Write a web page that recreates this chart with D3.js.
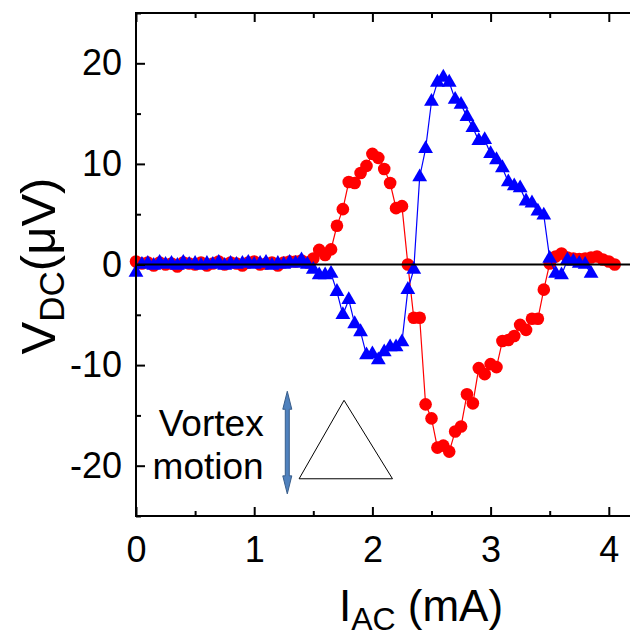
<!DOCTYPE html>
<html>
<head>
<meta charset="utf-8">
<script src="https://cdn.jsdelivr.net/npm/d3@7/dist/d3.min.js"></script>
<style>
  html, body { margin: 0; padding: 0; background: #fff; }
  svg { display: block; }
  text { font-family: "Liberation Sans", Arial, sans-serif; fill: #000; }
</style>
</head>
<body>
<script>
// DC voltage vs. AC drive current, two field polarities
const currentRed = [0.00,0.05,0.10,0.15,0.20,0.25,0.30,0.35,0.40,0.45,0.50,0.55,0.60,0.65,0.70,0.75,0.80,0.85,0.90,0.95,
  1.00,1.05,1.10,1.15,1.20,1.25,1.30,1.35,1.40,1.45,1.50,1.55,1.60,1.65,1.70,1.75,1.80,1.85,1.90,1.95,
  2.00,2.05,2.10,2.15,2.20,2.25,2.30,2.35,2.40,2.45,2.50,2.55,2.60,2.65,2.70,2.75,2.80,2.85,2.90,2.95,
  3.00,3.05,3.10,3.15,3.20,3.25,3.30,3.35,3.40,3.45,3.50,3.55,3.60,3.65,3.70,3.75,3.80,3.85,3.90,3.95,
  4.00,4.05];
const voltageRed = [0.3,0.1,0.2,-0.1,0.2,0.0,0.1,-0.2,0.2,0.1,0.0,0.2,-0.1,0.1,0.3,0.0,0.2,0.1,-0.1,0.2,
  0.3,0.0,0.1,0.2,-0.1,0.2,0.3,0.3,0.4,0.2,0.6,1.45,0.95,1.5,3.85,5.5,8.2,8.1,9.1,9.8,
  11.0,10.6,9.5,8.1,5.6,5.8,0.0,-5.3,-5.3,-13.9,-15.3,-18.2,-18.0,-18.6,-16.6,-16.1,-12.9,-13.8,-10.3,-10.9,
  -9.9,-10.2,-7.6,-7.5,-7.1,-6.0,-6.5,-5.4,-5.4,-2.5,0.1,0.8,1.1,0.7,0.6,0.55,0.6,0.7,0.8,0.5,
  0.3,0.0];

const currentBlue = [0.00,0.05,0.10,0.15,0.20,0.25,0.30,0.35,0.40,0.45,0.50,0.55,0.60,0.65,0.70,0.75,0.80,0.85,0.90,0.95,
  1.00,1.05,1.10,1.15,1.20,1.25,1.30,1.35,1.40,1.45,1.50,1.55,1.60,1.65,1.70,1.75,1.80,1.85,1.90,1.95,
  2.00,2.05,2.10,2.15,2.20,2.25,2.30,2.35,2.40,2.45,2.50,2.55,2.60,2.65,2.70,2.75,2.80,2.85,2.90,2.95,
  3.00,3.05,3.10,3.15,3.20,3.25,3.30,3.35,3.40,3.45,3.50,3.55,3.60,3.65,3.70,3.75,3.80,3.85];
const voltageBlue = [-0.8,0.0,0.1,-0.1,0.2,0.0,0.1,-0.1,0.2,0.0,0.1,-0.1,0.1,0.0,0.2,-0.1,0.1,0.0,0.1,0.2,
  0.0,0.1,0.2,-0.1,0.1,0.0,0.2,0.1,0.45,0.0,-0.5,-1.05,-1.05,-0.9,-2.7,-5.0,-3.5,-5.9,-6.7,-9.0,
  -8.9,-9.5,-8.7,-8.2,-8.2,-7.7,-2.5,-0.5,8.7,11.5,16.2,18.1,18.6,18.1,16.4,15.9,14.7,13.6,12.3,12.4,
  11.0,10.4,9.6,8.2,7.8,7.6,6.3,6.1,5.3,4.9,0.6,-0.9,-1.05,0.45,0.3,0.1,0.0,-0.9];

const xMajorTicks = [0, 1, 2, 3, 4];
const xMinorTicks = [0.5, 1.5, 2.5, 3.5];
const yMajorTicks = [-20, -10, 0, 10, 20];
const yMinorTicks = [-25, -15, -5, 5, 15, 25];
const insetLines = ["Vortex", "motion"];

const W = 630, H = 640;
const svg = d3.select("body").append("svg").attr("width", W).attr("height", H);
svg.append("rect").attr("width", W).attr("height", H).attr("fill", "#fff");

const plotLeft = 136, plotTop = 13, plotBottom = 516;
const x = d3.scaleLinear().domain([0, 4.2]).range([plotLeft, plotLeft + 4.2 * 118.2]);
const y = d3.scaleLinear().domain([-25, 25]).range([plotBottom, plotTop]);

const red = currentRed.map((c, i) => ({ c, v: voltageRed[i] }));
const blue = currentBlue.map((c, i) => ({ c, v: voltageBlue[i] }));

const line = d3.line().x(d => x(d.c)).y(d => y(d.v));

// red series
svg.append("path").datum(red).attr("d", line)
  .attr("fill", "none").attr("stroke", "#ff0000").attr("stroke-width", 1.2);
svg.append("g").selectAll("circle").data(red).join("circle")
  .attr("cx", d => x(d.c)).attr("cy", d => y(d.v)).attr("r", 6.3)
  .attr("fill", "#ff0000");

// blue series
svg.append("path").datum(blue).attr("d", line)
  .attr("fill", "none").attr("stroke", "#0000ff").attr("stroke-width", 1.2);
const tri = d3.symbol().type(d3.symbolTriangle).size(95);
svg.append("g").selectAll("path").data(blue).join("path")
  .attr("d", tri)
  .attr("transform", d => `translate(${x(d.c)},${y(d.v)})`)
  .attr("fill", "#0000ff");

// zero reference line
svg.append("line")
  .attr("x1", x(0)).attr("x2", x(4.2)).attr("y1", y(0)).attr("y2", y(0))
  .attr("stroke", "#000").attr("stroke-width", 2);

// frame
svg.append("rect")
  .attr("x", x(0)).attr("y", y(25))
  .attr("width", x(4.2) - x(0)).attr("height", y(-25) - y(25))
  .attr("fill", "none").attr("stroke", "#000").attr("stroke-width", 2);

function styleAxis(g) {
  g.select(".domain").remove();
  g.selectAll(".tick line").attr("stroke", "#000").attr("stroke-width", 2);
  g.selectAll("text").attr("font-size", 36).attr("font-family", "Liberation Sans, Arial, sans-serif").attr("fill", "#000");
}

const plainNumber = d => String(d);

// inward ticks
svg.append("g").attr("transform", `translate(0,${plotBottom})`)
  .call(d3.axisBottom(x).tickValues(xMajorTicks).tickSizeInner(-9).tickSizeOuter(0).tickPadding(20).tickFormat(plainNumber))
  .call(styleAxis);
svg.append("g").attr("transform", `translate(0,${plotBottom})`)
  .call(d3.axisBottom(x).tickValues(xMinorTicks).tickSizeInner(-5).tickSizeOuter(0).tickFormat(""))
  .call(styleAxis);
svg.append("g").attr("transform", `translate(0,${plotTop})`)
  .call(d3.axisTop(x).tickValues(xMajorTicks).tickSizeInner(-9).tickSizeOuter(0).tickFormat(""))
  .call(styleAxis);
svg.append("g").attr("transform", `translate(0,${plotTop})`)
  .call(d3.axisTop(x).tickValues(xMinorTicks).tickSizeInner(-5).tickSizeOuter(0).tickFormat(""))
  .call(styleAxis);
svg.append("g").attr("transform", `translate(${plotLeft},0)`)
  .call(d3.axisLeft(y).tickValues(yMajorTicks).tickSizeInner(-9).tickSizeOuter(0).tickPadding(14).tickFormat(plainNumber))
  .call(styleAxis);
svg.append("g").attr("transform", `translate(${plotLeft},0)`)
  .call(d3.axisLeft(y).tickValues(yMinorTicks).tickSizeInner(-5).tickSizeOuter(0).tickFormat(""))
  .call(styleAxis);

// axis titles
const xt = svg.append("text").attr("x", 421).attr("y", 621)
  .attr("text-anchor", "middle").attr("font-size", 44);
xt.append("tspan").text("I");
xt.append("tspan").attr("font-size", 32).attr("dy", 9).text("AC");
xt.append("tspan").attr("dy", -9).text(" (mA)");

const yt = svg.append("text").attr("transform", `translate(55,266) rotate(-90)`)
  .attr("text-anchor", "middle").attr("font-size", 49);
yt.append("tspan").text("V");
yt.append("tspan").attr("font-size", 35).attr("dy", 9).text("DC");
yt.append("tspan").attr("dy", -9).text("(\u03BCV)");

// inset: label, motion arrow and triangle symbol
svg.append("g").selectAll("text").data(insetLines).join("text")
  .attr("x", x(1.08)).attr("y", (d, i) => i === 0 ? y(-17) : y(-21.3))
  .attr("text-anchor", "end").attr("font-size", 37).text(d => d);

const ax = x(1.28), ay1 = y(-12.6), ay2 = y(-22.8);
const sw = 2, hw = 4.5, hl = 18;
const arrowPath = [
  [ax, ay1], [ax + hw, ay1 + hl], [ax + sw, ay1 + hl], [ax + sw, ay2 - hl], [ax + hw, ay2 - hl],
  [ax, ay2], [ax - hw, ay2 - hl], [ax - sw, ay2 - hl], [ax - sw, ay1 + hl], [ax - hw, ay1 + hl]
];
svg.append("path").attr("d", d3.line()(arrowPath) + "Z")
  .attr("fill", "#4f81bd").attr("stroke", "#385d8a").attr("stroke-width", 1);

const triPts = [[x(1.76), y(-13.5)], [x(1.38), y(-21.3)], [x(2.17), y(-21.3)]];
svg.append("path").attr("d", d3.line()(triPts) + "Z")
  .attr("fill", "none").attr("stroke", "#000").attr("stroke-width", 1);
</script>
</body>
</html>
